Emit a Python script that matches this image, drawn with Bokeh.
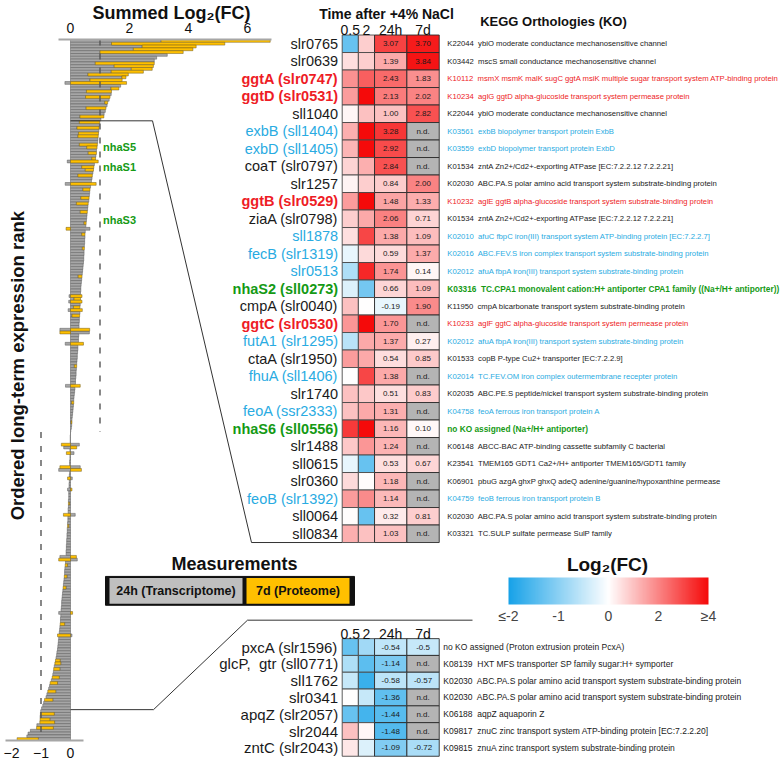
import math
import numpy as np
from bokeh.plotting import figure
from bokeh.models import (Range1d, LinearAxis, FixedTicker, ColumnDataSource,
                          ColorBar, LinearColorMapper)
from bokeh.core.properties import value, field
from bokeh.embed import file_html
from bokeh.resources import INLINE

ND = None  # not determined

# ======================= DATA =======================
top_genes = ["slr0765", "slr0639", "ggtA (slr0747)", "ggtD (slr0531)", "sll1040",
             "exbB (sll1404)", "exbD (sll1405)", "coaT (slr0797)", "slr1257", "ggtB (slr0529)",
             "ziaA (slr0798)", "sll1878", "fecB (slr1319)", "slr0513", "nhaS2 (sll0273)",
             "cmpA (slr0040)", "ggtC (slr0530)", "futA1 (slr1295)", "ctaA (slr1950)", "fhuA (sll1406)",
             "slr1740", "feoA (ssr2333)", "nhaS6 (sll0556)", "slr1488", "sll0615",
             "slr0360", "feoB (slr1392)", "sll0064", "sll0834"]
top_group = ["other", "other", "sugar", "sugar", "other", "iron", "iron", "other", "other", "sugar",
             "other", "iron", "iron", "iron", "nha", "other", "sugar", "iron", "other", "iron",
             "other", "iron", "nha", "other", "other", "other", "iron", "other", "other"]
top_05 = [-1.3, 0.5, 1.8, 1.6, 0.15, 1.3, 1.2, 0.7, 0.2, 1.6,
          0.8, 0.5, -0.2, -0.7, -0.3, 1.0, 1.7, -0.6, 1.6, 0.0,
          1.0, 1.0, 3.2, 0.9, -0.2, 0.6, 1.6, 0.05, 1.3]
top_2 = [0.8, 0.8, 2.6, 4.0, 1.0, 4.0, 4.0, 1.3, 0.8, 4.0,
         1.4, 3.0, 0.6, 3.5, -1.2, 0.0, 4.0, 1.4, 1.4, 3.0,
         0.9, 1.4, 4.0, 1.7, -1.3, 0.05, 1.9, -1.3, 1.0]
top_24h = [3.07, 1.39, 2.43, 2.13, 1.00, 3.28, 2.92, 2.84, 0.84, 1.48,
           2.06, 1.38, 0.59, 1.74, 0.66, -0.19, 1.70, 1.37, 0.54, 1.38,
           0.51, 1.31, 1.16, 1.24, 0.53, 1.18, 1.14, 0.32, 1.03]
top_7d = [3.70, 3.84, 1.83, 2.02, 2.82, ND, ND, ND, 2.00, 1.33,
          0.71, 1.09, 1.37, 0.14, 1.09, 1.90, ND, 0.27, 0.85, ND,
          0.83, ND, 0.10, ND, 0.67, ND, ND, 0.81, ND]
top_ko = ["K22044  ybiO moderate conductance mechanosensitive channel",
          "K03442  mscS small conductance mechanosensitive channel",
          "K10112  msmX msmK malK sugC ggtA msiK multiple sugar transport system ATP-binding protein",
          "K10234  aglG ggtD alpha-glucoside transport system permease protein",
          "K22044  ybiO moderate conductance mechanosensitive channel",
          "K03561  exbB biopolymer transport protein ExbB",
          "K03559  exbD biopolymer transport protein ExbD",
          "K01534  zntA Zn2+/Cd2+-exporting ATPase [EC:7.2.2.12 7.2.2.21]",
          "K02030  ABC.PA.S polar amino acid transport system substrate-binding protein",
          "K10232  aglE ggtB alpha-glucoside transport system substrate-binding protein",
          "K01534  zntA Zn2+/Cd2+-exporting ATPase [EC:7.2.2.12 7.2.2.21]",
          "K02010  afuC fbpC iron(III) transport system ATP-binding protein [EC:7.2.2.7]",
          "K02016  ABC.FEV.S iron complex transport system substrate-binding protein",
          "K02012  afuA fbpA iron(III) transport system substrate-binding protein",
          "K03316  TC.CPA1 monovalent cation:H+ antiporter CPA1 family ((Na+/H+ antiporter))",
          "K11950  cmpA bicarbonate transport system substrate-binding protein",
          "K10233  aglF ggtC alpha-glucoside transport system permease protein",
          "K02012  afuA fbpA iron(III) transport system substrate-binding protein",
          "K01533  copB P-type Cu2+ transporter [EC:7.2.2.9]",
          "K02014  TC.FEV.OM iron complex outermembrane recepter protein",
          "K02035  ABC.PE.S peptide/nickel transport system substrate-binding protein",
          "K04758  feoA ferrous iron transport protein A",
          "no KO assigned (Na+/H+ antiporter)",
          "K06148  ABCC-BAC ATP-binding cassette subfamily C bacterial",
          "K23541  TMEM165 GDT1 Ca2+/H+ antiporter TMEM165/GDT1 family",
          "K06901  pbuG azgA ghxP ghxQ adeQ adenine/guanine/hypoxanthine permease",
          "K04759  feoB ferrous iron transport protein B",
          "K02030  ABC.PA.S polar amino acid transport system substrate-binding protein",
          "K03321  TC.SULP sulfate permease SulP family"]

bot_genes = ["pxcA (slr1596)", "glcP,  gtr (sll0771)", "sll1762", "slr0341",
             "apqZ (slr2057)", "slr2044", "zntC (slr2043)"]
bot_group = ["other"] * 7
bot_05 = [-1.3, -0.7, -0.5, 0.0, -1.3, 1.0, 0.4]
bot_2 = [-0.8, -1.4, -1.7, -0.5, -1.6, 0.15, -0.3]
bot_24h = [-0.54, -1.14, -0.58, -1.36, -1.44, -1.48, -1.09]
bot_7d = [-0.5, ND, -0.57, ND, ND, ND, -0.72]
bot_ko = ["no KO assigned (Proton extrusion protein PcxA)",
          "K08139  HXT MFS transporter SP family sugar:H+ symporter",
          "K02030  ABC.PA.S polar amino acid transport system substrate-binding protein",
          "K02030  ABC.PA.S polar amino acid transport system substrate-binding protein",
          "K06188  aqpZ aquaporin Z",
          "K09817  znuC zinc transport system ATP-binding protein [EC:7.2.2.20]",
          "K09815  znuA zinc transport system substrate-binding protein"]

# remaining transporters (ranked between the two tables), 24h transcriptome / 7d proteome
mid_24h = [0.30, 0.98, 0.22, 0.96, 0.27, 0.25, 0.93, 0.92, 0.30, 0.55,
           0.88, 0.60, 0.86, 0.72, -0.11, 0.81, 0.38, 0.50, 0.76, 0.25,
           0.73, 0.71, -0.18, 0.68, 0.42, 0.65, 0.64, 0.35, 0.62, 0.20,
           0.59, 0.58, 0.33, 0.56, 0.55, 0.54, 0.46, 0.52, 0.66, 0.50,
           0.38, 0.49, 0.48, 0.48, 0.47, 0.40, 0.46, 0.46, 0.45, 0.45,
           0.44, 0.43, 0.42, 0.41, 0.40, 0.26, 0.38, 0.37, 0.36, 0.35,
           0.35, 0.34, -0.05, 0.12, -0.06, 0.33, 0.10, -0.08, 0.32, 0.05,
           0.30, 0.30, 0.29, 0.29, -0.36, 0.64, 0.28, 0.27, 0.27, -0.18,
           0.25, 0.25, 0.24, 0.23, 0.23, 0.22, 0.21, 0.13, 0.20, 0.19,
           0.19, 0.18, 0.17, 0.17, -0.17, 0.15, 0.14, 0.13, 0.12, 0.11,
           0.04, 0.10, 0.09, 0.08, 0.07, 0.06, 0.05, 0.02, 0.04, 0.03,
           0.01, 0.00, -0.01, -0.01, -0.01, 0.30, -0.23, -0.02, 0.12, -0.02,
           -0.02, -0.03, -0.03, 0.33, -0.40, -0.03, -0.04, 0.06, -0.04, -0.05,
           -0.05, -0.10, -0.06, -0.06, -0.06, -0.07, -0.03, -0.07, -0.08, -0.08,
           0.16, -0.09, -0.09, -0.10, -0.06, -0.11, -0.11, -0.12, -0.12, -0.13,
           -0.13, -0.14, -0.14, -0.15, -0.15, -0.36, 0.23, -0.17, -0.10, -0.19,
           -0.20, -0.20, -0.12, -0.22, -0.23, -0.24, -0.15, -0.26, -0.27, -0.28,
           -0.29, -0.30, -0.30, -0.31, -0.32, -0.40, -0.33, -0.34, -0.34, -0.20,
           -0.36, -0.37, -0.38, 0.05, -0.40, -0.41, -0.42, -0.43, -0.44, -0.46,
           -0.47, -0.49, -0.35, -0.33, -0.55, -0.36, -0.58, -0.60, -0.38, -0.65,
           -0.44, -0.71, -0.74, -0.50, -0.80, -0.83, -0.60, -0.91, -0.94, -0.98]
mid_7d = [0.69, ND, 0.75, ND, 0.68, 0.69, ND, ND, 0.61, 0.35,
          ND, 0.28, ND, 0.13, 0.94, ND, 0.41, 0.28, ND, 0.49,
          ND, ND, 0.87, ND, 0.24, ND, ND, 0.28, ND, 0.40,
          ND, ND, 0.24, ND, ND, ND, 0.07, ND, -0.15, ND,
          0.11, ND, ND, ND, ND, 0.07, ND, ND, ND, ND,
          ND, ND, ND, ND, ND, 0.13, ND, ND, ND, ND,
          ND, ND, 0.39, 0.22, 0.39, ND, 0.22, 0.40, ND, 0.26,
          ND, ND, ND, ND, 0.65, -0.36, ND, ND, ND, 0.44,
          ND, ND, ND, ND, ND, ND, ND, 0.08, ND, ND,
          ND, ND, ND, ND, 0.33, ND, ND, ND, ND, ND,
          0.07, ND, ND, ND, ND, ND, ND, 0.03, ND, ND,
          ND, ND, ND, ND, ND, -0.31, 0.21, ND, -0.14, ND,
          ND, ND, ND, -0.36, 0.37, ND, ND, -0.10, ND, ND,
          ND, 0.05, ND, ND, ND, ND, -0.04, ND, ND, ND,
          -0.24, ND, ND, ND, -0.04, ND, ND, ND, ND, ND,
          ND, ND, ND, ND, ND, 0.20, -0.40, ND, -0.08, ND,
          ND, ND, -0.09, ND, ND, ND, -0.10, ND, ND, ND,
          ND, ND, ND, ND, ND, 0.07, ND, ND, ND, -0.15,
          ND, ND, ND, -0.44, ND, ND, ND, ND, ND, ND,
          ND, ND, -0.16, -0.20, ND, -0.21, ND, ND, -0.24, ND,
          -0.25, ND, ND, -0.27, ND, ND, -0.28, ND, ND, ND]
low_24h = [-1.01, -0.55, -1.03, -0.70]
low_7d = [ND, -0.47, ND, -0.33]

nhas_labels = ["nhaS5", "nhaS1", "nhaS3"]
nhas_rank = [38, 45, 64]

col_labels = ["0.5", "2", "24h", "7d"]
top_axis_ticks = [0, 2, 4, 6]
bottom_axis_ticks = [-2, -1, 0]
legend_ticks = [-2, -1, 0, 2, 4]
measure_labels = ["24h (Transcriptome)", "7d (Proteome)"]

# ======================= STYLE / LAYOUT (window pixels) =======================
W, H = 783, 760
FL, FR, FT, FB = 0, 783, 39, 744
BAR_X0, BAR_PPU = 70, 29.5
HEAT_X0, HEAT_PPU = 341.7, 16.17
TOP_Y0, TOP_PPU = 43.3, 17.6
BOT_Y0, BOT_PPU = 650, 16.9
COL_L = [0, 1, 2, 4]
COL_R = [1, 2, 4, 6]
GENE_X = -0.25
KO_X_TOP, KO_X_BOT = 6.5, 6.25

GROUP_COLOR = {"other": "#1a1a1a", "sugar": "#ee1c25", "iron": "#29abe2", "nha": "#159a15"}
GENE_STYLE = {"other": "normal", "sugar": "bold", "iron": "normal", "nha": "bold"}
KO_STYLE = {"other": "normal", "sugar": "normal", "iron": "normal", "nha": "bold"}
GREY, GREY_LINE = "#a6a6a6", "#5a5a5a"
ORANGE, ORANGE_LINE = "#ffc000", "#6f5a1e"
SANS = "Liberation Sans"

NEG_END = (23, 162, 232)
POS_END = (245, 10, 10)


def ramp(t):
    end = NEG_END if t < 0 else POS_END
    a = abs(t)
    r, g, b = (int(round(255 + (e - 255) * a)) for e in end)
    return "#%02x%02x%02x" % (r, g, b)


palette = [ramp(-1 + 2 * k / 255) for k in range(256)]
mapper = LinearColorMapper(palette=palette, low=-1, high=1, nan_color="#b4b4b4")


def scaled(v):
    if v is None:
        return float("nan")
    return max(-1.0, v / 2.0) if v < 0 else min(1.0, v / 4.0)


def xr(px0, ppu):
    return Range1d(start=(FL - px0) / ppu, end=(FR - px0) / ppu)


def yr(py0, ppu):
    return Range1d(start=(FB - py0) / ppu, end=(FT - py0) / ppu)


# ======================= BAR DATA =======================
bar_24h = top_24h + mid_24h + low_24h + bot_24h
bar_7d = top_7d + mid_7d + low_7d + bot_7d
N = len(bar_24h)
ROW_PX = (FB - FT) / N

g_y, g_l, g_r, o_y, o_l, o_r, sums = [], [], [], [], [], [], []
for i, (g, o) in enumerate(zip(bar_24h, bar_7d)):
    g_y.append(i + 0.5)
    g_l.append(min(0.0, g))
    g_r.append(max(0.0, g))
    s = g
    if o is not None:
        base = g if g * o > 0 else 0.0
        o_y.append(i + 0.5)
        o_l.append(min(base, base + o))
        o_r.append(max(base, base + o))
        s = g + o
    sums.append(s)
n_pos = sum(1 for s in sums if s > 0)

# ======================= FIGURE =======================
p = figure(width=W, height=H, title=None,
           x_range=xr(BAR_X0, BAR_PPU), y_range=yr(FT, ROW_PX),
           x_axis_location="above", y_axis_location=None,
           output_backend="svg", toolbar_location=None,
           min_border_left=0, min_border_right=0,
           min_border_top=FT, min_border_bottom=H - FB)
p.extra_x_ranges = {"heat": xr(HEAT_X0, HEAT_PPU), "px": xr(0, 1)}
p.extra_y_ranges = {"top": yr(TOP_Y0, TOP_PPU), "bot": yr(BOT_Y0, BOT_PPU), "px": yr(0, 1)}
p.grid.visible = False
p.outline_line_color = None
p.background_fill_color = "white"
p.border_fill_color = "white"

ax = p.xaxis[0]
ax.ticker = FixedTicker(ticks=top_axis_ticks)
ax.bounds = (-0.4, 6.8)
ax2 = LinearAxis(ticker=FixedTicker(ticks=bottom_axis_ticks), bounds=(-2.2, 0.45))
p.add_layout(ax2, "below")
for a in (ax, ax2):
    a.axis_line_color = "#a6a6a6"
    a.axis_line_width = 2
    a.major_tick_line_color = None
    a.minor_tick_line_color = None
    a.major_label_text_font = SANS
    a.major_label_text_font_size = "14px"
    a.major_label_text_color = "#111111"
    a.major_label_standoff = 1

# bars
p.hbar(y=g_y, left=g_l, right=g_r, height=1.0, fill_color=GREY, line_color=GREY_LINE, line_width=0.5)
p.hbar(y=o_y, left=o_l, right=o_r, height=1.0, fill_color=ORANGE, line_color=ORANGE_LINE, line_width=0.5)

# threshold lines (+1 over the positive ranks, -1 over the negative ranks)
p.segment(x0=[1, -1], y0=[0, n_pos], x1=[1, -1], y1=[n_pos, N],
          line_color="#555555", line_width=1.4, line_dash="6 8")

p.text(x=[1] * len(nhas_labels), y=[r + 0.5 for r in nhas_rank], text=nhas_labels,
       x_offset=3, text_font=value(SANS), text_font_size=value("11px"), text_font_style="bold",
       text_color=GROUP_COLOR["nha"], text_baseline="middle", text_align="left")

# connectors between ranked bars and the tables
cut_top = len(top_genes)
cut_bot = N - len(low_24h) - len(bot_genes)
rank_px = lambda r: FT + r * ROW_PX
bar_px = lambda v: BAR_X0 + v * BAR_PPU
top_tab_bottom = TOP_Y0 + (len(top_genes) - 0.5) * TOP_PPU
p.line(x=[bar_px(0), 152, 251, HEAT_X0], y=[rank_px(cut_top)] * 2 + [top_tab_bottom] * 2,
       x_range_name="px", y_range_name="px", line_color="#333333", line_width=1, level="overlay")
p.line(x=[bar_px(0), 153, 247, 472], y=[rank_px(cut_bot)] * 2 + [623] * 2,
       x_range_name="px", y_range_name="px", line_color="#333333", line_width=1, level="overlay")


def draw_table(genes, groups, v05, v2, v24, v7d, kos, yname, fmt, gene_size, ko_size, ko_bold_size,
               ko_x, val_size):
    n = len(genes)
    L, R, T, B, S, LC = [], [], [], [], [], []
    vx, vy, vt = [], [], []
    for r in range(n):
        vals = [v05[r], v2[r], v24[r], v7d[r]]
        for c, v in enumerate(vals):
            L.append(COL_L[c]); R.append(COL_R[c]); T.append(r - 0.5); B.append(r + 0.5)
            S.append(scaled(v))
            LC.append("#2b2b2b" if c >= 2 else "#4a4a4a")
            if c >= 2:
                vx.append((COL_L[c] + COL_R[c]) / 2)
                vy.append(r)
                vt.append("n.d." if v is None else fmt(v))
    cells = ColumnDataSource(dict(left=L, right=R, top=T, bottom=B, s=np.array(S, dtype=float), lc=LC))
    p.quad(left="left", right="right", top="top", bottom="bottom", source=cells,
           fill_color={"field": "s", "transform": mapper}, line_color="lc", line_width=0.9,
           x_range_name="heat", y_range_name=yname, level="overlay")
    p.text(x=vx, y=vy, text=vt, x_range_name="heat", y_range_name=yname, level="overlay",
           text_font=value(SANS), text_font_size=value(val_size), text_color="#1a1a1a",
           text_align="center", text_baseline="middle")
    gsrc = ColumnDataSource(dict(x=[GENE_X] * n, y=list(range(n)),
                                 text=[g.replace("  ", "\u00a0 ") for g in genes],
                                 color=[GROUP_COLOR[g] for g in groups],
                                 style=[GENE_STYLE[g] for g in groups]))
    p.text(x="x", y="y", text="text", source=gsrc, x_range_name="heat", y_range_name=yname,
           level="overlay", text_font=value(SANS), text_font_size=value(gene_size),
           text_color="color", text_font_style=field("style"),
           text_align="right", text_baseline="middle")
    ksrc = ColumnDataSource(dict(x=[ko_x] * n, y=list(range(n)),
                                 text=[k.replace("  ", "\u00a0 ") for k in kos],
                                 color=[GROUP_COLOR[g] for g in groups],
                                 style=[KO_STYLE[g] for g in groups],
                                 size=[ko_bold_size if KO_STYLE[g] == "bold" else ko_size for g in groups]))
    p.text(x="x", y="y", text="text", source=ksrc, x_range_name="heat", y_range_name=yname,
           level="overlay", text_font=value(SANS), text_font_size=field("size"),
           text_color="color", text_font_style=field("style"),
           text_align="left", text_baseline="middle")
    p.text(x=[(a + b) / 2 for a, b in zip(COL_L, COL_R)], y=[-0.8] * 4, text=col_labels,
           x_range_name="heat", y_range_name=yname, level="overlay",
           text_font=value(SANS), text_font_size=value("14px"), text_color="#111111",
           text_align="center", text_baseline="middle")


draw_table(top_genes, top_group, top_05, top_2, top_24h, top_7d, top_ko, "top",
           lambda v: "%.2f" % v, "14.5px", "7.7px", "8.3px", KO_X_TOP, "8px")
draw_table(bot_genes, bot_group, bot_05, bot_2, bot_24h, bot_7d, bot_ko, "bot",
           lambda v: "%g" % v, "15px", "8.5px", "8.5px", KO_X_BOT, "8px")


# free texts (titles), drawn as overlay text glyphs in window-pixel coordinates
def ptext(x, y, text, size, bold=True, align="center", angle=0.0, color="#111111"):
    p.text(x=[x], y=[y], text=[text], x_range_name="px", y_range_name="px", level="overlay",
           text_font=value(SANS), text_font_size=value(size),
           text_font_style="bold" if bold else "normal", text_color=color,
           text_align=align, text_baseline="middle", angle=angle)


ptext(171, 12, "Summed Log\u2082(FC)", "18px")
ptext(386, 13, "Time after +4% NaCl", "14px")
ptext(553, 21, "KEGG Orthologies (KO)", "13px")
ptext(17, 367, "Ordered long-term expression rank", "18.5px", angle=math.pi / 2)
ptext(234, 566, "Measurements", "18px")
ptext(607, 567, "Log\u2082(FC)", "19px")

# measurement legend box
p.quad(left=[105], right=[354], top=[579], bottom=[608], x_range_name="px", y_range_name="px",
       fill_color="#111111", line_color="#111111", level="overlay")
p.quad(left=[109, 246], right=[242, 349], top=[580.5, 580.5], bottom=[606.5, 606.5],
       x_range_name="px", y_range_name="px", fill_color=["#bfbfbf", ORANGE], line_color=None,
       level="overlay")
p.text(x=[175.5, 297.5], y=[594, 594], text=measure_labels, x_range_name="px", y_range_name="px",
       text_font=value(SANS), text_font_size=value("12.5px"), text_font_style="bold",
       text_color="#111111", text_align="center", text_baseline="middle", level="overlay")

# colour bar
overrides = {}
for i, t in enumerate(legend_ticks):
    txt = str(t)
    if i == 0:
        txt = "\u2264" + str(t)
    elif i == len(legend_ticks) - 1:
        txt = "\u2265" + str(t)
    overrides[scaled(t)] = txt
cb = ColorBar(color_mapper=mapper, orientation="horizontal", width=200, height=27,
              location=(508, 114), ticker=FixedTicker(ticks=[scaled(t) for t in legend_ticks]),
              major_label_overrides=overrides, major_label_text_font=SANS,
              major_label_text_font_size="14px", major_tick_line_color=None,
              minor_tick_line_color=None, bar_line_color=None, label_standoff=3,
              padding=0, margin=0, background_fill_alpha=0, border_line_color=None)
p.add_layout(cb)

open("out.html", "w", encoding="utf-8").write(file_html(p, INLINE, "chart"))
